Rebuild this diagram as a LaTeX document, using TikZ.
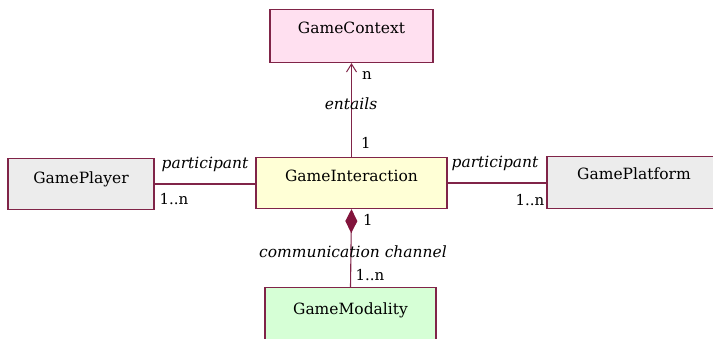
\documentclass[tikz,border=0pt]{standalone}
\usepackage{fontspec}
\setmainfont{DejaVu Serif}
\usetikzlibrary{arrows.meta}
\definecolor{umlborder}{RGB}{128,36,72}
\definecolor{pinkfill}{RGB}{255,224,240}
\definecolor{yellowfill}{RGB}{255,255,214}
\definecolor{grayfill}{RGB}{236,236,236}
\definecolor{greenfill}{RGB}{214,255,214}
\definecolor{diamondcol}{RGB}{130,20,60}
\begin{document}
\begin{tikzpicture}[x=1pt,y=1pt,
  umlbox/.style={draw=umlborder, line width=1.1pt, rectangle, inner xsep=0pt, inner ysep=0pt,
    font=\fontsize{15.5}{18}\selectfont, anchor=north, text height=24pt, text depth=27pt},
  assoc/.style={draw=umlborder, line width=1.1pt},
  rolelbl/.style={font=\fontsize{15.5}{18}\selectfont\itshape, inner sep=0pt},
  multlbl/.style={font=\fontsize{15}{18}\selectfont, inner sep=0pt}]
\useasboundingbox (0,0) rectangle (713,338);
\node[umlbox, fill=pinkfill, minimum width=163pt, text height=24pt, text depth=29pt] (GC) at (351.5,329) {GameContext};
\node[umlbox, fill=yellowfill, minimum width=191pt] (GI) at (351.5,181) {GameInteraction};
\node[umlbox, fill=grayfill, minimum width=146pt, text height=25pt, text depth=26pt] (GP) at (81,180) {GamePlayer};
\node[umlbox, fill=grayfill, minimum width=174pt, text height=23pt, text depth=29pt] (GPl) at (634,182) {GamePlatform};
\node[umlbox, fill=greenfill, minimum width=171pt, text height=27pt, text depth=27pt] (GM) at (350.5,51) {GameModality};
% connectors
\draw[assoc, -{Straight Barb[length=8pt,width=10pt,line width=1pt]}] (GI.north) -- (GC.south);
\draw[assoc] (GP.east) -- (GP.east -| GI.west);
\draw[assoc] (GI.east) -- (GI.east -| GPl.west);
\draw[assoc, {Diamond[length=24pt,width=12pt,fill=diamondcol,color=diamondcol]}-] (GI.south) -- (GM.north);
% labels
\node[multlbl] (n1) at (367,262) {n};
\node[rolelbl] (ent) at (351,234) {entails};
\node[multlbl] (one1) at (366,195) {1};
\node[rolelbl] (pl) at (205,174) {participant};
\node[multlbl] (pl1n) at (174,139) {1..n};
\node[rolelbl] (pr) at (495,175) {participant};
\node[multlbl] (pr1n) at (530,138) {1..n};
\node[multlbl] (one2) at (368,118) {1};
\node[rolelbl] (cc) at (353,86) {communication channel};
\node[multlbl] (cc1n) at (370,63) {1..n};
\end{tikzpicture}
\end{document}
